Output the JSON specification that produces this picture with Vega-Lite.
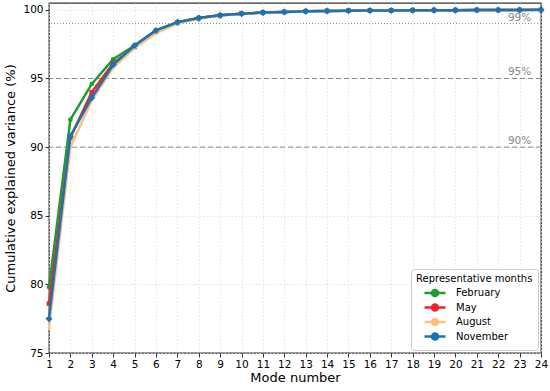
{
  "$schema": "https://vega.github.io/schema/vega-lite/v6.json",
  "autosize": {"type": "none"},
  "width": 492,
  "height": 350,
  "padding": {"left": 49, "top": 3, "right": 9, "bottom": 38},
  "config": {
    "font": "DejaVu Sans",
    "view": {"stroke": "#333", "strokeWidth": 1.3},
    "axis": {"labelFont": "DejaVu Sans", "titleFont": "DejaVu Sans", "labelFontSize": 10.5, "titleFontSize": 13, "labelColor": "#000", "titleColor": "#000", "titleFontWeight": "normal", "tickColor": "#333", "domain": false, "gridColor": "#ddd", "gridDash": [1.5, 2], "gridWidth": 0.8, "labelOverlap": false, "labelFlush": false}
  },
  "datasets": {
    "cev": [
      {"mode": 1, "month": "February", "value": 79.8},
      {"mode": 2, "month": "February", "value": 92.0},
      {"mode": 3, "month": "February", "value": 94.6},
      {"mode": 4, "month": "February", "value": 96.4},
      {"mode": 5, "month": "February", "value": 97.4},
      {"mode": 6, "month": "February", "value": 98.5},
      {"mode": 7, "month": "February", "value": 99.1},
      {"mode": 8, "month": "February", "value": 99.4},
      {"mode": 9, "month": "February", "value": 99.6},
      {"mode": 10, "month": "February", "value": 99.72},
      {"mode": 11, "month": "February", "value": 99.8},
      {"mode": 12, "month": "February", "value": 99.85},
      {"mode": 13, "month": "February", "value": 99.9},
      {"mode": 14, "month": "February", "value": 99.92},
      {"mode": 15, "month": "February", "value": 99.94},
      {"mode": 16, "month": "February", "value": 99.95},
      {"mode": 17, "month": "February", "value": 99.96},
      {"mode": 18, "month": "February", "value": 99.97},
      {"mode": 19, "month": "February", "value": 99.98},
      {"mode": 20, "month": "February", "value": 99.98},
      {"mode": 21, "month": "February", "value": 99.99},
      {"mode": 22, "month": "February", "value": 99.99},
      {"mode": 23, "month": "February", "value": 99.995},
      {"mode": 24, "month": "February", "value": 100.0},
      {"mode": 1, "month": "May", "value": 78.6},
      {"mode": 2, "month": "May", "value": 90.7},
      {"mode": 3, "month": "May", "value": 94.0},
      {"mode": 4, "month": "May", "value": 96.1},
      {"mode": 5, "month": "May", "value": 97.3},
      {"mode": 6, "month": "May", "value": 98.4},
      {"mode": 7, "month": "May", "value": 99.05},
      {"mode": 8, "month": "May", "value": 99.4},
      {"mode": 9, "month": "May", "value": 99.6},
      {"mode": 10, "month": "May", "value": 99.72},
      {"mode": 11, "month": "May", "value": 99.8},
      {"mode": 12, "month": "May", "value": 99.85},
      {"mode": 13, "month": "May", "value": 99.9},
      {"mode": 14, "month": "May", "value": 99.92},
      {"mode": 15, "month": "May", "value": 99.94},
      {"mode": 16, "month": "May", "value": 99.95},
      {"mode": 17, "month": "May", "value": 99.96},
      {"mode": 18, "month": "May", "value": 99.97},
      {"mode": 19, "month": "May", "value": 99.98},
      {"mode": 20, "month": "May", "value": 99.98},
      {"mode": 21, "month": "May", "value": 99.99},
      {"mode": 22, "month": "May", "value": 99.99},
      {"mode": 23, "month": "May", "value": 99.995},
      {"mode": 24, "month": "May", "value": 100.0},
      {"mode": 1, "month": "August", "value": 76.8},
      {"mode": 2, "month": "August", "value": 90.0},
      {"mode": 3, "month": "August", "value": 93.4},
      {"mode": 4, "month": "August", "value": 95.8},
      {"mode": 5, "month": "August", "value": 97.2},
      {"mode": 6, "month": "August", "value": 98.3},
      {"mode": 7, "month": "August", "value": 99.0},
      {"mode": 8, "month": "August", "value": 99.35},
      {"mode": 9, "month": "August", "value": 99.58},
      {"mode": 10, "month": "August", "value": 99.7},
      {"mode": 11, "month": "August", "value": 99.79},
      {"mode": 12, "month": "August", "value": 99.85},
      {"mode": 13, "month": "August", "value": 99.9},
      {"mode": 14, "month": "August", "value": 99.92},
      {"mode": 15, "month": "August", "value": 99.94},
      {"mode": 16, "month": "August", "value": 99.95},
      {"mode": 17, "month": "August", "value": 99.96},
      {"mode": 18, "month": "August", "value": 99.97},
      {"mode": 19, "month": "August", "value": 99.98},
      {"mode": 20, "month": "August", "value": 99.98},
      {"mode": 21, "month": "August", "value": 99.99},
      {"mode": 22, "month": "August", "value": 99.99},
      {"mode": 23, "month": "August", "value": 99.995},
      {"mode": 24, "month": "August", "value": 100.0},
      {"mode": 1, "month": "November", "value": 77.5},
      {"mode": 2, "month": "November", "value": 90.8},
      {"mode": 3, "month": "November", "value": 93.6},
      {"mode": 4, "month": "November", "value": 96.0},
      {"mode": 5, "month": "November", "value": 97.4},
      {"mode": 6, "month": "November", "value": 98.5},
      {"mode": 7, "month": "November", "value": 99.1},
      {"mode": 8, "month": "November", "value": 99.4},
      {"mode": 9, "month": "November", "value": 99.6},
      {"mode": 10, "month": "November", "value": 99.72},
      {"mode": 11, "month": "November", "value": 99.8},
      {"mode": 12, "month": "November", "value": 99.85},
      {"mode": 13, "month": "November", "value": 99.9},
      {"mode": 14, "month": "November", "value": 99.92},
      {"mode": 15, "month": "November", "value": 99.94},
      {"mode": 16, "month": "November", "value": 99.95},
      {"mode": 17, "month": "November", "value": 99.96},
      {"mode": 18, "month": "November", "value": 99.97},
      {"mode": 19, "month": "November", "value": 99.98},
      {"mode": 20, "month": "November", "value": 99.98},
      {"mode": 21, "month": "November", "value": 99.99},
      {"mode": 22, "month": "November", "value": 99.99},
      {"mode": 23, "month": "November", "value": 99.995},
      {"mode": 24, "month": "November", "value": 100.0}
    ],
    "refs": [
      {"level": 99, "label": "99%", "kind": "dot", "at": 23},
      {"level": 95, "label": "95%", "kind": "dash", "at": 23},
      {"level": 90, "label": "90%", "kind": "dash", "at": 23}
    ]
  },
  "encoding": {
    "x": {"field": "mode", "type": "quantitative", "title": "Mode number",
          "scale": {"domain": [1, 24], "nice": false, "zero": false},
          "axis": {"values": [1,2,3,4,5,6,7,8,9,10,11,12,13,14,15,16,17,18,19,20,21,22,23,24], "labelOverlap": false, "grid": true, "tickSize": 4, "labelPadding": 2, "titlePadding": 2}},
    "y": {"field": "value", "type": "quantitative", "title": "Cumulative explained variance (%)",
          "scale": {"domain": [75, 100.5], "nice": false, "zero": false},
          "axis": {"values": [75, 80, 85, 90, 95, 100], "grid": true, "tickSize": 4, "labelPadding": 2, "titlePadding": 5}}
  },
  "layer": [
    {
      "data": {"name": "refs"},
      "mark": {"type": "rule", "color": "#888", "strokeWidth": 1},
      "encoding": {
        "x": null,
        "y": {"field": "level", "type": "quantitative"},
        "strokeDash": {"field": "kind", "type": "nominal", "scale": {"domain": ["dot", "dash"], "range": [[1, 2], [5, 3]]}, "legend": null}
      }
    },
    {
      "data": {"name": "refs"},
      "mark": {"type": "text", "color": "#888", "fontSize": 10.5, "align": "center", "baseline": "bottom", "dy": -1},
      "encoding": {
        "x": {"field": "at", "type": "quantitative"},
        "y": {"field": "level", "type": "quantitative"},
        "text": {"field": "label"}
      }
    },
    {
      "data": {"name": "cev"},
      "transform": [{"filter": {"field": "month", "equal": "February"}}],
      "mark": {"type": "line", "strokeWidth": 2.5},
      "encoding": {
        "color": {"field": "month", "type": "nominal", "sort": ["February", "May", "August", "November"],
                  "scale": {"domain": ["February", "May", "August", "November"], "range": ["#1b9e2f", "#e8262b", "#ffbf80", "#1a74b4"]},
                  "legend": {"title": "Representative months", "orient": "none", "legendX": 362, "legendY": 266,
                             "titleFontSize": 10, "titleFontWeight": "normal", "labelFontSize": 10, "titleColor": "#000", "labelColor": "#000",
                             "symbolType": "M-4.2,0H4.2M-1.2,0A1.2,1.2,0,1,1,1.2,0A1.2,1.2,0,1,1,-1.2,0",
                             "symbolSize": 25, "symbolStrokeWidth": 2.5, "rowPadding": -1.5, "symbolOffset": 14,
                             "strokeColor": "#ccc", "fillColor": "#ffffff", "cornerRadius": 3, "padding": 5, "titlePadding": 4, "labelOffset": 16}}
      }
    },
    {
      "data": {"name": "cev"},
      "transform": [{"filter": {"field": "month", "equal": "February"}}],
      "mark": {"type": "point", "filled": true, "opacity": 1, "shape": "circle", "size": 22},
      "encoding": {"color": {"field": "month", "type": "nominal", "legend": null}}
    },
    {
      "data": {"name": "cev"},
      "transform": [{"filter": {"field": "month", "equal": "May"}}],
      "mark": {"type": "line", "strokeWidth": 2.5},
      "encoding": {"color": {"field": "month", "type": "nominal"}}
    },
    {
      "data": {"name": "cev"},
      "transform": [{"filter": {"field": "month", "equal": "May"}}],
      "mark": {"type": "point", "filled": true, "opacity": 1, "shape": "square", "size": 22},
      "encoding": {"color": {"field": "month", "type": "nominal", "legend": null}}
    },
    {
      "data": {"name": "cev"},
      "transform": [{"filter": {"field": "month", "equal": "August"}}],
      "mark": {"type": "line", "strokeWidth": 2.5},
      "encoding": {"color": {"field": "month", "type": "nominal"}}
    },
    {
      "data": {"name": "cev"},
      "transform": [{"filter": {"field": "month", "equal": "August"}}],
      "mark": {"type": "point", "filled": true, "opacity": 1, "shape": "triangle-up", "size": 12},
      "encoding": {"color": {"field": "month", "type": "nominal", "legend": null}}
    },
    {
      "data": {"name": "cev"},
      "transform": [{"filter": {"field": "month", "equal": "November"}}],
      "mark": {"type": "line", "strokeWidth": 2.5},
      "encoding": {"color": {"field": "month", "type": "nominal"}}
    },
    {
      "data": {"name": "cev"},
      "transform": [{"filter": {"field": "month", "equal": "November"}}],
      "mark": {"type": "point", "filled": true, "opacity": 1, "shape": "diamond", "size": 50},
      "encoding": {"color": {"field": "month", "type": "nominal", "legend": null}}
    }
  ]
}
